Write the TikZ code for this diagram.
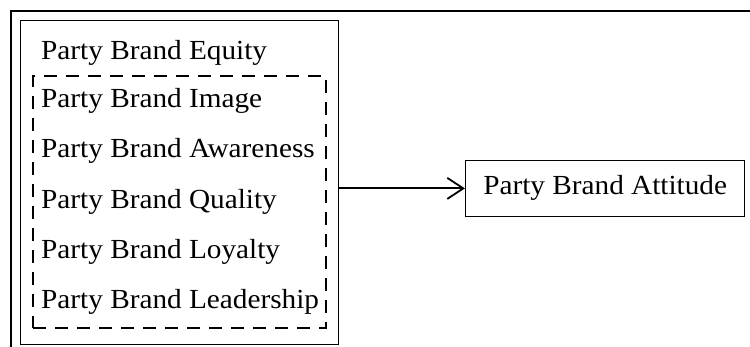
\documentclass[tikz,border=0pt]{standalone}
\usepackage{fontspec}
\setmainfont[FakeStretch=1.06]{Liberation Serif}
\usetikzlibrary{arrows.meta}
\tikzset{
	item/.style={anchor=base west, inner sep=0pt, font=\fontsize{27.6}{30}\selectfont},
	solidbox/.style={draw, line width=1pt, inner sep=0pt},
	dashbox/.style={draw, line width=1.3pt, dash pattern=on 13pt off 9pt, inner sep=0pt}
}
\begin{document}
\begin{tikzpicture}[x=1pt,y=1pt,>={Straight Barb[length=16pt,width=21pt]}]
			\useasboundingbox (0,0) rectangle (750,347);
			% outer frame
			\draw[line width=1.3pt] (760,336) -- (11,336) -- (11,-10);
			
			\node	(equity) at (179.9,164.6) [solidbox, minimum width=318pt, minimum height=323.3pt] {};
			\node	(group) at (179.5,145) [dashbox, minimum width=293pt, minimum height=252pt] {};
			\node	(title) at (41,287) [item] {Party Brand Equity};
			\node	(image) at (41,239) [item] {Party Brand Image};
			\node	(aware) at (41,189) [item] {Party Brand Awareness};
			\node	(quality) at (41,138.5) [item] {Party Brand Quality};
			\node	(loyal) at (41,88) [item] {Party Brand Loyalty};
			\node	(lead) at (41,38) [item] {Party Brand Leadership};
			\node	(attitude) at (605.2,158.6) [solidbox, minimum width=279.5pt, minimum height=55.3pt, font=\fontsize{27.6}{30}\selectfont] {Party Brand Attitude};
			
			\draw 
			(equity.east |- attitude.west) edge[->, line width=1.8pt] (attitude.west)
			;
		\end{tikzpicture}
\end{document}
